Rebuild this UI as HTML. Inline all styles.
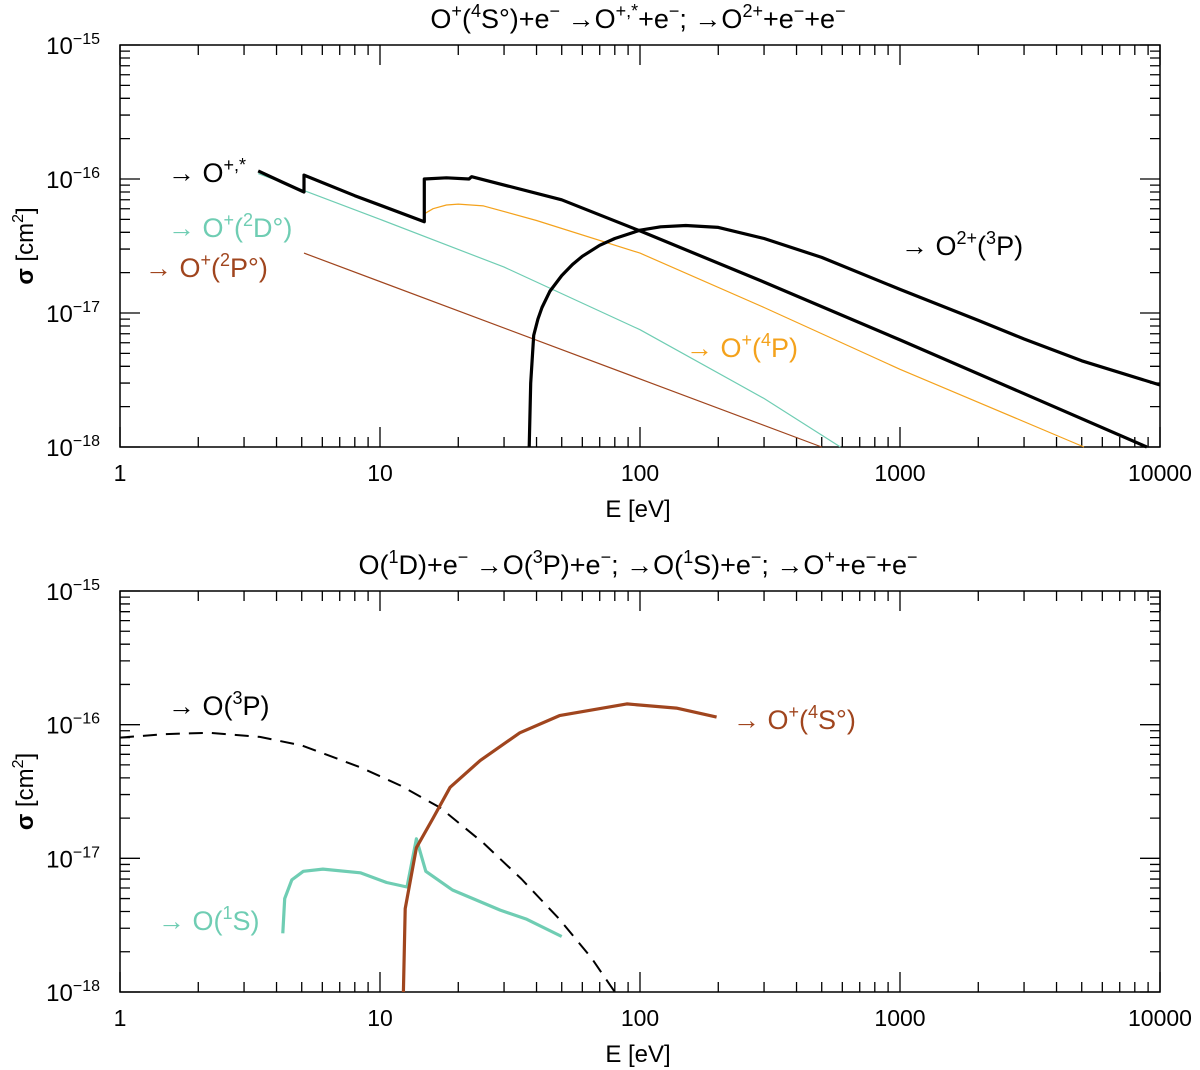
<!DOCTYPE html>
<html><head><meta charset="utf-8"><style>
body{margin:0;background:#fff}
svg{display:block;font-family:"Liberation Sans",sans-serif}
</style></head><body>
<svg id="c" width="1200" height="1070" xmlns="http://www.w3.org/2000/svg"></svg>
<script>
const xTickLabels=["1","10","100","1000","10000"];
const yTickExps=["-15","-16","-17","-18"];
// top panel series [E eV, sigma cm2]
const oStarE=[3.4,4.2,5.1,5.1,8,14.8,14.8,18,22,22.5,50,100,300,1000,3000,8900];
const oStarS=[1.15e-16,9.5e-17,8e-17,1.07e-16,7.5e-17,4.8e-17,1e-16,1.02e-16,1e-16,1.04e-16,7e-17,4.1e-17,1.7e-17,6.3e-18,2.5e-18,1e-18];
const o2E=[37.5,38,39,40.5,42,45,50,55,60,70,80,100,120,150,200,300,500,1000,2000,3000,5000,10000];
const o2S=[1e-18,3e-18,6.8e-18,9e-18,1.1e-17,1.45e-17,1.9e-17,2.3e-17,2.65e-17,3.2e-17,3.6e-17,4.15e-17,4.4e-17,4.5e-17,4.35e-17,3.6e-17,2.6e-17,1.5e-17,8.8e-18,6.4e-18,4.4e-18,2.9e-18];
const d2E=[3.4,5.1,10,30,100,300,590];
const d2S=[1.1e-16,8.2e-17,5e-17,2.2e-17,7.5e-18,2.3e-18,1e-18];
const p4E=[14.8,16,18,20,25,40,100,300,1000,5100];
const p4S=[5.5e-17,6.0e-17,6.4e-17,6.5e-17,6.3e-17,4.9e-17,2.8e-17,1.1e-17,3.8e-18,1e-18];
const p2E=[5.1,500];
const p2S=[2.8e-17,1e-18];
// bottom panel
const o3E=[1,1.5,2.2,3.45,5,8.4,12,17,25,35,49,65,80];
const o3S=[8e-17,8.5e-17,8.7e-17,8.1e-17,7e-17,4.8e-17,3.5e-17,2.4e-17,1.3e-17,7e-18,3.5e-18,1.8e-18,1e-18];
const s1E=[4.23,4.3,4.58,5.07,6.03,8.4,10.6,12.7,13.8,15,19,29,36.7,50];
const s1S=[2.75e-18,5e-18,6.9e-18,8e-18,8.3e-18,7.8e-18,6.6e-18,6.1e-18,1.4e-17,8e-18,5.8e-18,4.1e-18,3.5e-18,2.6e-18];
const s4E=[12.3,12.5,13.8,16,18.6,24.3,34.5,49,89,138,197];
const s4S=[1e-18,4.2e-18,1.2e-17,2e-17,3.4e-17,5.4e-17,8.7e-17,1.17e-16,1.43e-16,1.33e-16,1.14e-16];

const svg=document.getElementById('c');
const NS="http://www.w3.org/2000/svg";
function el(t,a,p){const e=document.createElementNS(NS,t);for(const k in a)e.setAttribute(k,a[k]);(p||svg).appendChild(e);return e;}
const X0=120,X1=1160;
const xs=e=>X0+(X1-X0)*Math.log10(e)/4;
function mkY(top,bot){return s=>top+(bot-top)*(-15-Math.log10(s))/3;}
// rich text: ^{..} = superscript
function rich(t,s,fs){
  const parts=s.split(/(\^\{[^}]*\})/).filter(p=>p.length);
  let up=false;const sh=Math.round(fs*0.42);
  parts.forEach(p=>{
    const isSup=p.startsWith('^{');
    const txt=isSup?p.slice(2,-1):p;
    const a={};
    if(isSup&&!up){a.dy=-sh;up=true;}
    else if(!isSup&&up){a.dy=sh;up=false;}
    if(isSup)a['font-size']=Math.round(fs*0.68);
    const ts=el('tspan',a,t);ts.textContent=txt;
  });
}

function panel(top,bot,title,name){
  const g=el('g',{});
  
  
  const fr=el('rect',{x:X0,y:top,width:X1-X0,height:bot-top,fill:'none',stroke:'#000','stroke-width':1.5},g);
  
  const ys=mkY(top,bot);
  let d='';
  for(let dec=0;dec<4;dec++){for(let m=1;m<10;m++){const x=xs(Math.pow(10,dec)*m);const L=m==1?20:10;d+=`M${x},${bot}v${-L}M${x},${top}v${L}`;}}
  d+=`M${X1},${bot}v-20M${X1},${top}v20`;
  for(let e=-18;e<-15;e++){for(let m=1;m<10;m++){const y=ys(m*Math.pow(10,e));const L=m==1?20:10;d+=`M${X0},${y}h${L}M${X1},${y}h${-L}`;}}
  d+=`M${X0},${top}h20M${X1},${top}h-20`;
  const t=el('path',{d:d,stroke:'#000','stroke-width':1.3,fill:'none'},g);
  
  xTickLabels.forEach((l,i)=>{const tx=el('text',{x:X0+(X1-X0)*i/4,y:bot+34,'font-size':23,'text-anchor':'middle'},g);tx.textContent=l;
    });
  yTickExps.forEach((l,i)=>{const tx=el('text',{x:100,y:ys(Math.pow(10,-15-i))+9,'font-size':24,'text-anchor':'end'},g);
    rich(tx,`10^{−${l.slice(1)}}`,24);
    });
  const xt=el('text',{x:638,y:bot+70,'font-size':24,'text-anchor':'middle'},g);xt.textContent='E [eV]';
  
  const yt=el('text',{x:0,y:0,'font-size':24,'text-anchor':'middle',transform:`translate(33,${(top+bot)/2}) rotate(-90)`},g);
  const sg=el('tspan',{'font-weight':'bold'},yt);sg.textContent='σ ';
  const rest=el('tspan',{},yt);rich(rest,' [cm^{2}]',24);
  
  const tt=el('text',{x:638,y:top-17,'font-size':27,'text-anchor':'middle'},g);rich(tt,title,27);
  
  return ys;
}
function line(E,S,ys,col,w,name,dash){
  const p=E.map((e,i)=>`${i?'L':'M'}${xs(e).toFixed(1)},${ys(S[i]).toFixed(1)}`).join('');
  const a={d:p,stroke:col,'stroke-width':w,fill:'none','stroke-linejoin':'round'};
  if(dash)a['stroke-dasharray']=dash;
  const e=el('path',a);
  
  
}
function label(x,y,s,col,name){
  const t=el('text',{x:x,y:y,'font-size':27,fill:col});rich(t,s,27);
  
}
const teal='#6fcdb3',orange='#f4a21c',brown='#a0451e';

const yA=panel(45,447,'O^{+}(^{4}S°)+e^{−}  →O^{+,*}+e^{−}; →O^{2+}+e^{−}+e^{−}','top-panel');
line(d2E,d2S,yA,teal,1.2,'series-o-plus-2Do');
line(p2E,p2S,yA,brown,1.2,'series-o-plus-2Po');
line(p4E,p4S,yA,orange,1.2,'series-o-plus-4P');
line(oStarE,oStarS,yA,'#000',3.2,'series-o-plus-star');
line(o2E,o2S,yA,'#000',3.2,'series-o2-plus-3P');
label(168,182,'→ O^{+,*}','#000','label-o-plus-star');
label(168,237,'→ O^{+}(^{2}D°)',teal,'label-o-plus-2Do');
label(145,277,'→ O^{+}(^{2}P°)',brown,'label-o-plus-2Po');
label(686,357,'→ O^{+}(^{4}P)',orange,'label-o-plus-4P');
label(901,255,'→ O^{2+}(^{3}P)','#000','label-o2-plus-3P');

const yB=panel(591,992,'O(^{1}D)+e^{−}  →O(^{3}P)+e^{−}; →O(^{1}S)+e^{−}; →O^{+}+e^{−}+e^{−}','bottom-panel');
line(o3E,o3S,yB,'#000',2,'series-o-3P','14,9');
line(s1E,s1S,yB,teal,3.2,'series-o-1S');
line(s4E,s4S,yB,brown,3.2,'series-o-plus-4So');
label(168,715,'→ O(^{3}P)','#000','label-o-3P');
label(158,930,'→ O(^{1}S)',teal,'label-o-1S');
label(733,729,'→ O^{+}(^{4}S°)',brown,'label-o-plus-4So');
</script>
</body></html>
